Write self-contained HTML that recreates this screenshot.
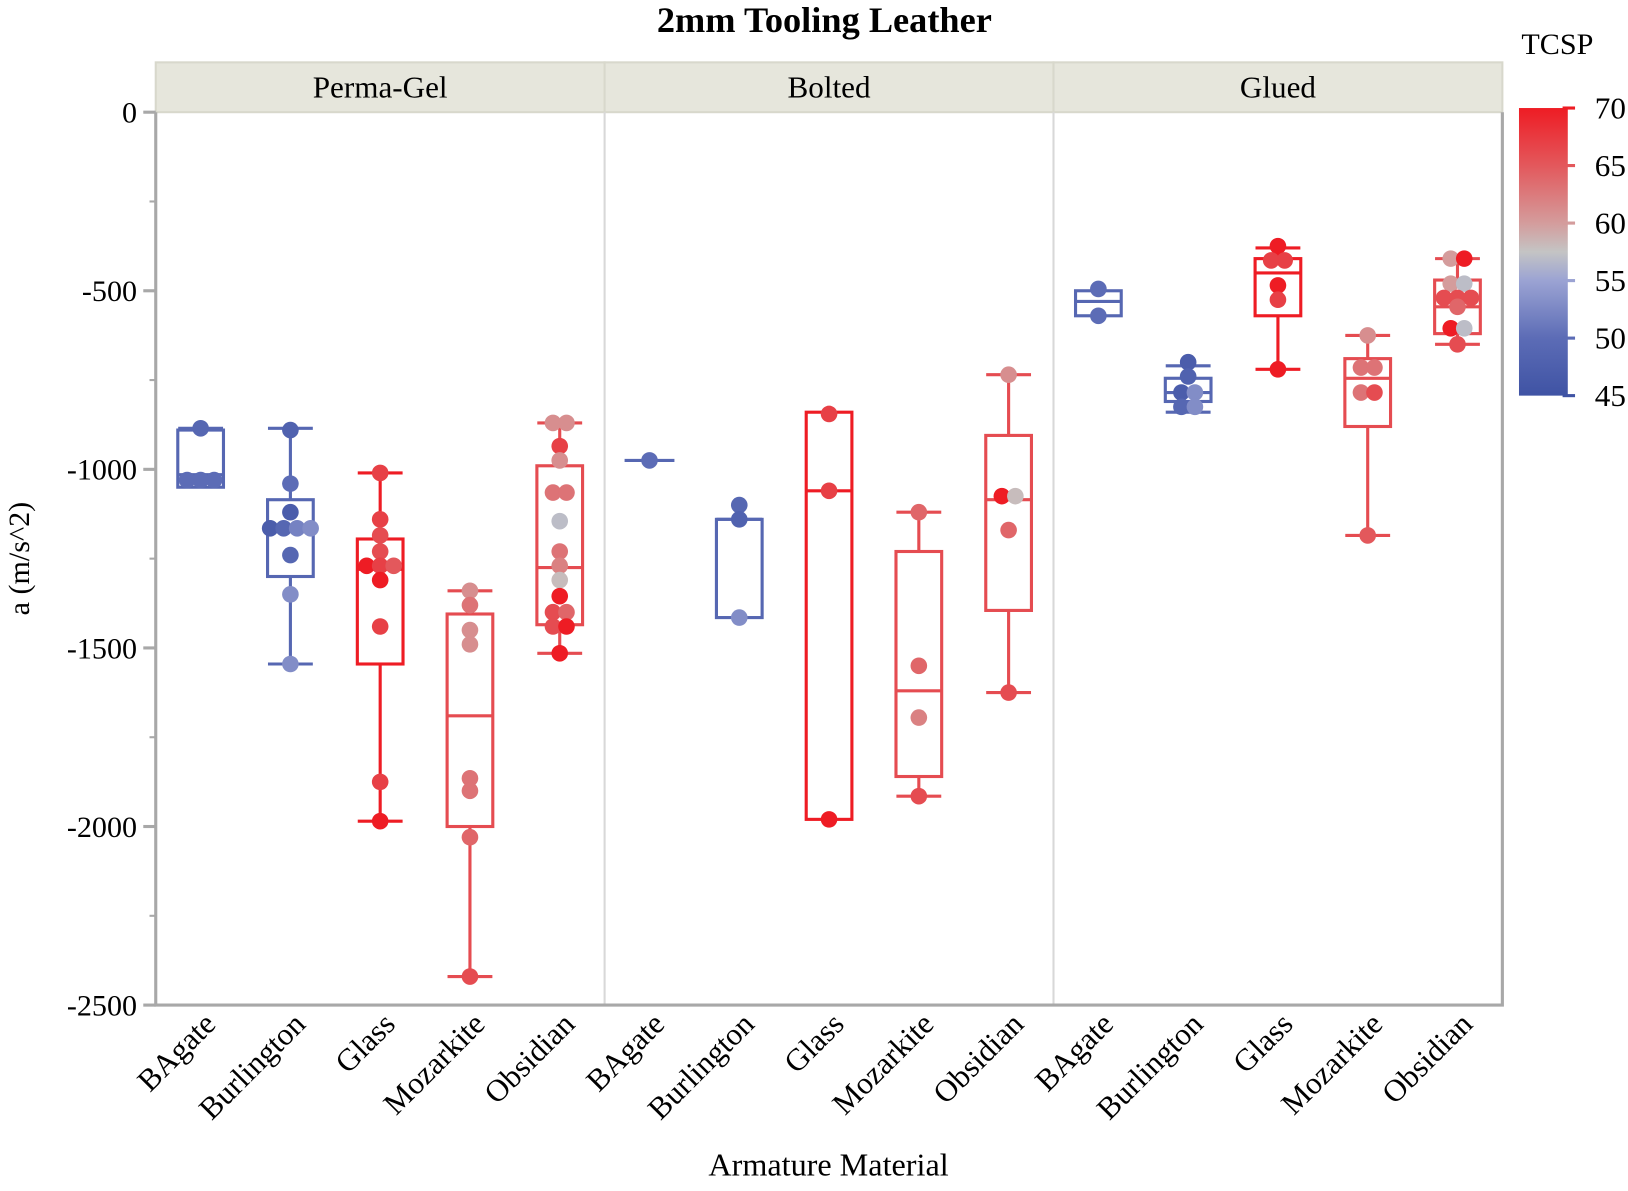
<!DOCTYPE html>
<html><head><meta charset="utf-8"><style>
html,body{margin:0;padding:0;background:#fff;}
svg{display:block;font-family:"Liberation Serif",serif;}
</style></head><body>
<svg id="chart" width="1628" height="1191" viewBox="0 0 1568 1147" xmlns="http://www.w3.org/2000/svg">
<defs>
<linearGradient id="cbar" x1="0" y1="1" x2="0" y2="0">
<stop offset="0" stop-color="#3f53a4"/><stop offset="0.2" stop-color="#5c6cb6"/><stop offset="0.4" stop-color="#9ba3d3"/><stop offset="0.5" stop-color="#c4c4c4"/><stop offset="0.6" stop-color="#d49c9c"/><stop offset="0.8" stop-color="#e3585c"/><stop offset="1" stop-color="#ee1c24"/>
</linearGradient>
</defs>
<text x="794" y="31" text-anchor="middle" font-size="35" font-weight="bold">2mm Tooling Leather</text>
<text transform="translate(28,538) rotate(-90)" text-anchor="middle" font-size="29">a (m/s^2)</text>
<text x="798" y="1132" text-anchor="middle" font-size="31">Armature Material</text>
<g id="plot"></g>
<g id="legend">
<text x="1500" y="52" text-anchor="middle" font-size="29">TCSP</text>
<rect x="1463" y="104" width="47" height="277" fill="url(#cbar)"/>
</g>
</svg>
<script>
const panels = ["Perma-Gel","Bolted","Glued"];
const categories = ["BAgate","Burlington","Glass","Mozarkite","Obsidian"];
const yTicks = [0,-500,-1000,-1500,-2000,-2500];
const legendTicks = [45,50,55,60,65,70];
// box stats per panel*category: [whiskerHigh, q3, median, q1, whiskerLow]
const boxStats = [
 [-885,-890,-1015,-1050,-1050],[-885,-1085,-1165,-1300,-1545],[-1010,-1195,-1280,-1545,-1985],[-1340,-1405,-1690,-2000,-2420],[-870,-990,-1275,-1435,-1515],
 [-975,-975,-975,-975,-975],[-1140,-1140,-1140,-1415,-1415],[-840,-840,-1060,-1980,-1980],[-1120,-1230,-1620,-1860,-1915],[-735,-905,-1085,-1395,-1625],
 [-500,-500,-530,-570,-570],[-710,-745,-785,-810,-840],[-380,-410,-450,-570,-720],[-625,-690,-745,-880,-1185],[-410,-470,-545,-620,-650]
];
const boxTcsp = [49,49,70,66,66, 49,49,70,66,66, 49,49,70,66,66];
// points per group: values and TCSP
const pointValues = [
 [-885,-1030,-1030,-1030],
 [-890,-1040,-1120,-1165,-1165,-1165,-1165,-1240,-1350,-1545],
 [-1010,-1140,-1185,-1230,-1270,-1270,-1270,-1310,-1440,-1875,-1985],
 [-1340,-1380,-1450,-1490,-1865,-1900,-2030,-2420],
 [-870,-870,-935,-975,-1065,-1065,-1145,-1230,-1270,-1310,-1355,-1400,-1400,-1440,-1440,-1515],
 [-975],
 [-1100,-1140,-1415],
 [-845,-1060,-1980],
 [-1120,-1550,-1695,-1915],
 [-735,-1075,-1075,-1170,-1625],
 [-495,-570],
 [-700,-740,-785,-785,-825,-825],
 [-375,-415,-415,-485,-525,-720],
 [-625,-715,-715,-785,-785,-1185],
 [-410,-410,-480,-480,-520,-520,-520,-545,-605,-605,-650]
];
const pointTcsp = [
 [49,50,50,50],
 [48,50,47,47,49,52,53,49,53,53],
 [67,67,66,66,70,67,65,70,67,67,70],
 [61,63,61,61,63,63,64,66],
 [61,61,67,61,63,63,57,63,62,58,70,66,64,66,70,70],
 [50],
 [49,48,53],
 [67,67,70],
 [64,64,62,66],
 [61,70,58,64,66],
 [50,50],
 [47,48,47,53,49,53],
 [70,67,67,70,67,70],
 [61,63,63,63,66,65],
 [60,70,60,57,66,66,66,64,70,57,66]
];
const X0=150,X1=1447,Y0=108,Y1=968,VMIN=-2500,VMAX=0;
const yScale=v=>Y0+(VMAX-v)/(VMAX-VMIN)*(Y1-Y0);
const panelW=(X1-X0)/panels.length, catW=panelW/categories.length;
const xScale=(p,c)=>X0+p*panelW+(c+0.5)*catW;
const stops=[[45,[63,83,164]],[50,[92,108,182]],[55,[155,163,211]],[57.5,[196,196,196]],[60,[212,156,156]],[65,[227,88,92]],[70,[238,28,36]]];
function col(t){t=Math.max(45,Math.min(70,t));for(let i=0;i<stops.length-1;i++){const a=stops[i],b=stops[i+1];if(t<=b[0]){const f=(t-a[0])/(b[0]-a[0]);return 'rgb('+a[1].map((v,k)=>Math.round(v+(b[1][k]-v)*f)).join(',')+')';}}return 'rgb(238,28,36)';}
const NS='http://www.w3.org/2000/svg';
const g=document.getElementById('plot');
function mk(tag,attrs,parent){const e=document.createElementNS(NS,tag);for(const k in attrs)e.setAttribute(k,attrs[k]);(parent||g).appendChild(e);return e;}
panels.forEach((p,i)=>{
 const s=mk('rect',{x:X0+i*panelW,y:60,width:panelW,height:48,fill:'#e6e6dc',stroke:'#d8d8cc','stroke-width':2});
 
 
 const t=mk('text',{x:X0+(i+0.5)*panelW,y:94,'text-anchor':'middle','font-size':30});
 t.textContent=p;
 
 
 if(i>0){const l=mk('line',{x1:X0+i*panelW,x2:X0+i*panelW,y1:108,y2:Y1,stroke:'#d8d8d8','stroke-width':2});
 
 }
});
const ax=mk('path',{d:`M${X0},${Y0} V${Y1} H${X1} V${Y0}`,fill:'none',stroke:'#a8a8a8','stroke-width':3});


yTicks.forEach(v=>{const y=yScale(v);
 mk('line',{x1:X0-12,x2:X0,y1:y,y2:y,stroke:'#a8a8a8','stroke-width':3});
 const t=mk('text',{x:X0-18,y:y+10,'text-anchor':'end','font-size':29});t.textContent=v;
 
 
});
for(let v=-250;v>-2500;v-=500){const y=yScale(v);mk('line',{x1:X0-6,x2:X0,y1:y,y2:y,stroke:'#a8a8a8','stroke-width':2});}
panels.forEach((p,pi)=>categories.forEach((c,ci)=>{
 const x=xScale(pi,ci);
 const t=mk('text',{transform:`translate(${x+16},${Y1+20}) rotate(-45)`,'text-anchor':'end','font-size':30});t.textContent=c;
 
 
 const gi=pi*5+ci, st=boxStats[gi], bc=col(boxTcsp[gi]);
 const bg=mk('g',{});
 
 
 const hw=22,cw=12;
 mk('line',{x1:x,x2:x,y1:yScale(st[0]),y2:yScale(st[1]),stroke:bc,'stroke-width':3},bg);
 mk('line',{x1:x,x2:x,y1:yScale(st[3]),y2:yScale(st[4]),stroke:bc,'stroke-width':3},bg);
 if(st[0]>st[1]) mk('line',{x1:x-cw*1.8,x2:x+cw*1.8,y1:yScale(st[0]),y2:yScale(st[0]),stroke:bc,'stroke-width':3},bg);
 if(st[4]<st[3]) mk('line',{x1:x-cw*1.8,x2:x+cw*1.8,y1:yScale(st[4]),y2:yScale(st[4]),stroke:bc,'stroke-width':3},bg);
 if(st[1]===st[3]) mk('line',{x1:x-cw*2,x2:x+cw*2,y1:yScale(st[1]),y2:yScale(st[1]),stroke:bc,'stroke-width':3},bg);
 else{
  mk('rect',{x:x-hw,y:yScale(st[1]),width:2*hw,height:yScale(st[3])-yScale(st[1]),fill:'none',stroke:bc,'stroke-width':3},bg);
  mk('line',{x1:x-hw,x2:x+hw,y1:yScale(st[2]),y2:yScale(st[2]),stroke:bc,'stroke-width':3},bg);
 }
 const vals=pointValues[gi], tc=pointTcsp[gi];
 vals.forEach((v,k)=>{
  let n=0,tot=0;vals.forEach((w,j)=>{if(Math.abs(w-v)<15){if(j<k)n++;tot++;}});
  const off=(n-(tot-1)/2)*13;
  const d=mk('circle',{cx:x+off,cy:yScale(v),r:8,fill:col(tc[k])},bg);
  
  
 });
}));
const lg=document.getElementById('legend');
legendTicks.forEach(t=>{const y=381-(t-45)/25*277;
 const l=mk('line',{x1:1505,x2:1517,y1:y,y2:y,stroke:col(t),'stroke-width':3},lg);
 const tx=mk('text',{x:1536,y:y+10,'font-size':30},lg);tx.textContent=t;
 
 
});
</script>
</body></html>
